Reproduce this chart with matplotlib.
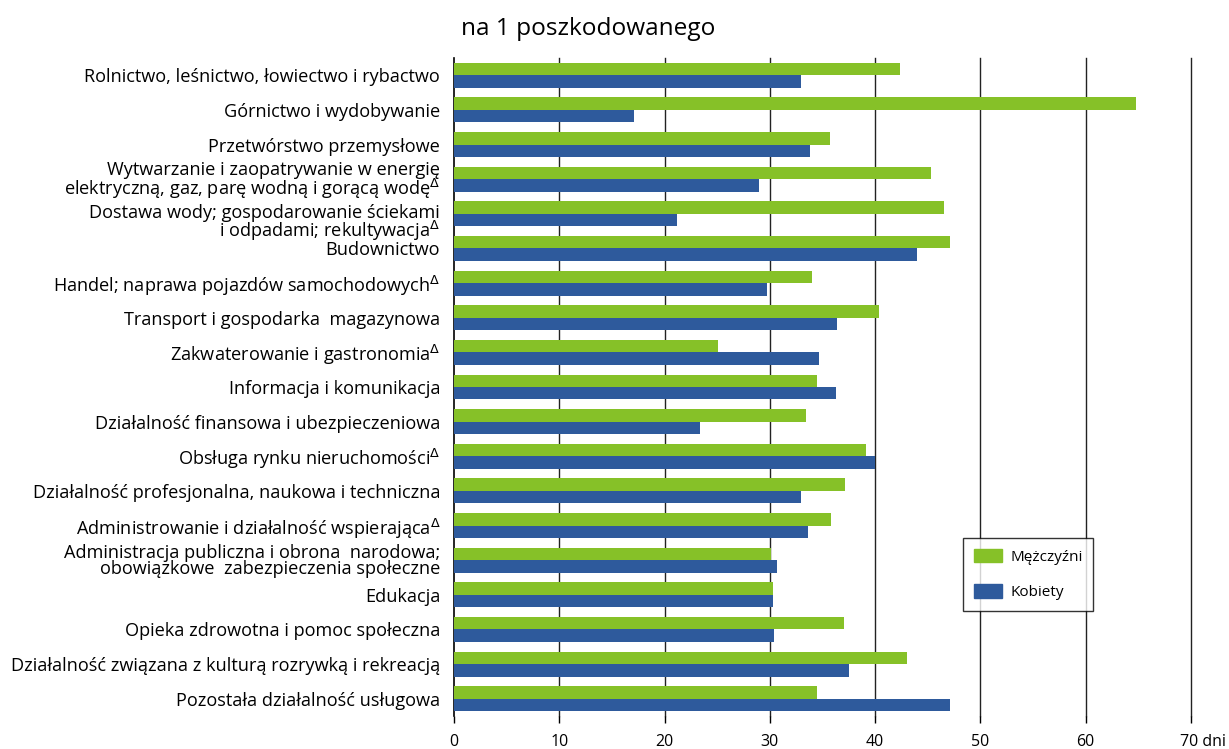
import numpy as np
import matplotlib
matplotlib.use('Agg')
import matplotlib.pyplot as plt
from matplotlib.patches import Patch
from matplotlib.transforms import ScaledTranslation

plt.rcParams['font.family'] = ['Open Sans', 'DejaVu Sans']

# categories (top to bottom)
categories = [
    'Rolnictwo, leśnictwo, łowiectwo i rybactwo',
    'Górnictwo i wydobywanie',
    'Przetwórstwo przemysłowe',
    'Wytwarzanie i zaopatrywanie w energię\nelektryczną, gaz, parę wodną i gorącą wodę$^{\\Delta}$',
    'Dostawa wody; gospodarowanie ściekami\ni odpadami; rekultywacja$^{\\Delta}$',
    'Budownictwo',
    'Handel; naprawa pojazdów samochodowych$^{\\Delta}$',
    'Transport i gospodarka  magazynowa',
    'Zakwaterowanie i gastronomia$^{\\Delta}$',
    'Informacja i komunikacja',
    'Działalność finansowa i ubezpieczeniowa',
    'Obsługa rynku nieruchomości$^{\\Delta}$',
    'Działalność profesjonalna, naukowa i techniczna',
    'Administrowanie i działalność wspierająca$^{\\Delta}$',
    'Administracja publiczna i obrona  narodowa;\nobowiązkowe  zabezpieczenia społeczne',
    'Edukacja',
    'Opieka zdrowotna i pomoc społeczna',
    'Działalność związana z kulturą rozrywką i rekreacją',
    'Pozostała działalność usługowa',
]

mezczyzni = [42.4, 64.8, 35.7, 45.3, 46.5, 47.1, 34.0, 40.4, 25.1, 34.5,
             33.4, 39.1, 37.1, 35.8, 30.1, 30.3, 37.0, 43.0, 34.5]
kobiety = [33.0, 17.1, 33.8, 29.0, 21.2, 44.0, 29.7, 36.4, 34.7, 36.3,
           23.4, 40.0, 33.0, 33.6, 30.7, 30.3, 30.4, 37.5, 47.1]

xticks = [0, 10, 20, 30, 40, 50, 60, 70]
xticklabels = ['0', '10', '20', '30', '40', '50', '60', '70 dni']

green = '#86C128'
blue = '#2E5A9C'

fig = plt.figure(figsize=(12.29, 7.49), dpi=100)
ax = fig.add_axes([0.3695, 0.044, 0.5995, 0.8786])

y = np.arange(len(categories))
h = 0.36
ax.barh(y - h / 2, mezczyzni, height=h, color=green, zorder=3)
ax.barh(y + h / 2, kobiety, height=h, color=blue, zorder=3)

ax.set_xlim(0, 70)
ax.set_ylim(len(categories) - 0.5, -0.5)

ax.set_yticks(y)
ax.set_yticklabels(categories, fontsize=13.1, linespacing=0.85)
ax.tick_params(axis='y', length=0, pad=10)
# two-line label for water supply sits a bit lower in the original
lab = ax.get_yticklabels()[4]
lab.set_transform(lab.get_transform() + ScaledTranslation(0, -6 / 72, fig.dpi_scale_trans))

ax.set_xticks(xticks)
ax.set_xticklabels(xticklabels, fontsize=11.5)
ax.tick_params(axis='x', length=5, width=1, color='black', pad=8)
lbl = ax.get_xticklabels()[-1]
lbl.set_ha('left')
lbl.set_transform(lbl.get_transform() + ScaledTranslation(-8 / 72, 0, fig.dpi_scale_trans))

for x in xticks[1:]:
    ax.axvline(x, color='#222222', lw=1, zorder=1, clip_on=False)

for s in ['top', 'right', 'bottom']:
    ax.spines[s].set_visible(False)
ax.spines['left'].set_color('black')
ax.spines['left'].set_linewidth(1.2)

handles = [Patch(color=green, label='Mężczyźni'), Patch(color=blue, label='Kobiety')]
leg = fig.legend(handles=handles, loc='upper left', bbox_to_anchor=(0.7836, 0.2817),
                 borderaxespad=0, fontsize=11, frameon=True, fancybox=False,
                 handlelength=1.83, handleheight=1.0, labelspacing=1.25,
                 borderpad=0.7, handletextpad=0.55)
leg.get_frame().set_edgecolor('black')
leg.get_frame().set_linewidth(1)

fig.text(0.375, 0.945, 'na 1 poszkodowanego', fontsize=17.6, ha='left', va='bottom')

fig.savefig('out.png', dpi=100)
